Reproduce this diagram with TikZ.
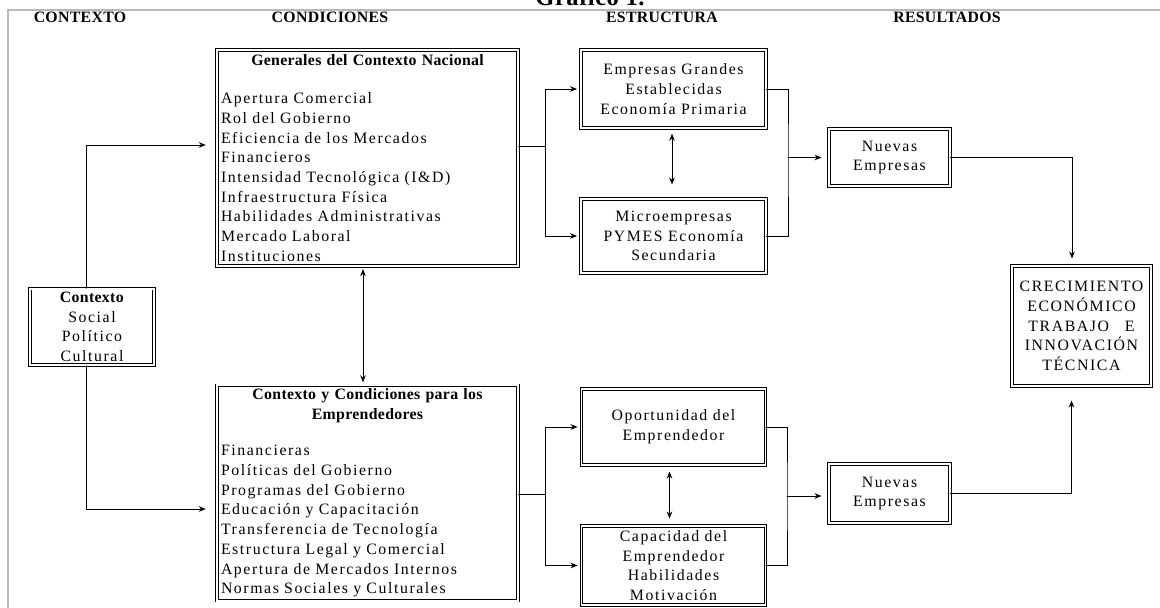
\documentclass[tikz,border=0pt]{standalone}
\usepackage{fontspec}
\setmainfont{Liberation Serif}[LetterSpace=10,BoldFeatures={LetterSpace=2}]
\usetikzlibrary{arrows.meta}

\begin{document}
\begin{tikzpicture}[>={Stealth[length=4pt,width=3.2pt]},line cap=round,line width=0.55pt,
  box/.style={draw,double,double distance=1.1pt,line width=0.5pt,align=center,inner sep=2pt,font=\fontsize{9}{11.2}\selectfont},
  listbox/.style={box,align=left,text width=5.86cm,inner xsep=2.4pt},
  head/.style={font=\bfseries\fontsize{9}{11}\selectfont}]
\useasboundingbox (0,0) rectangle (23.2,12.16);
\draw[gray!55,line width=0.9pt] (23.2,11.96) -- (0.16,11.96) -- (0.16,0);

\node[font=\bfseries\fontsize{14}{16}\selectfont,anchor=base] (titulo) at (11.8,12.05) {Gráfico 1.};
\node[head] (hctx) at (1.6,11.82) {CONTEXTO};
\node[head] (hcond) at (6.6,11.82) {CONDICIONES};
\node[head] (hestr) at (13.24,11.82) {ESTRUCTURA};
\node[head] (hres) at (18.94,11.82) {RESULTADOS};

\node[box,minimum width=2.48cm,minimum height=1.52cm] (ctx) at (1.84,5.62) {\textbf{Contexto}\\Social\\Político\\Cultural};

\node[listbox,minimum height=4.32cm] (nacional) at (7.35,9.0) {{\centering\bfseries Generales del Contexto Nacional\par}\vspace{10.5pt}Apertura Comercial\\Rol del Gobierno\\Eficiencia de los Mercados\\Financieros\\Intensidad Tecnológica (I\&D)\\Infraestructura Física\\Habilidades Administrativas\\Mercado Laboral\\Instituciones};
\node[listbox,minimum height=4.2cm] (emprend) at (7.35,2.3) {{\centering\bfseries Contexto y Condiciones para los\\Emprendedores\par}\vspace{9.5pt}Financieras\\Políticas del Gobierno\\Programas del Gobierno\\Educación y Capacitación\\Transferencia de Tecnología\\Estructura Legal y Comercial\\Apertura de Mercados Internos\\Normas Sociales y Culturales};

\node[box,minimum width=3.7cm,minimum height=1.56cm] (grandes) at (13.47,10.38) {Empresas Grandes\\Establecidas\\Economía Primaria};
\node[box,minimum width=3.7cm,minimum height=1.48cm] (pymes) at (13.47,7.44) {Microempresas\\PYMES Economía\\Secundaria};
\node[box,minimum width=3.68cm,minimum height=1.52cm] (oport) at (13.47,3.62) {Oportunidad del\\Emprendedor};
\node[box,minimum width=3.68cm,minimum height=1.58cm] (capac) at (13.47,0.85) {Capacidad del\\Emprendedor\\Habilidades\\Motivación};

\node[box,minimum width=2.42cm,minimum height=1.14cm] (nuevas1) at (17.79,9.01) {Nuevas\\Empresas};
\node[box,minimum width=2.42cm,minimum height=1.18cm] (nuevas2) at (17.79,2.29) {Nuevas\\Empresas};
\node[box,minimum width=2.78cm,minimum height=2.4cm] (crec) at (21.63,5.64) {CRECIMIENTO\\ECONÓMICO\\TRABAJO\quad E\\INNOVACIÓN\\TÉCNICA};

\coordinate (j1) at (10.9,9.24);
\coordinate (j2) at (15.76,9.01);
\coordinate (j3) at (10.9,2.28);
\coordinate (j4) at (15.74,2.24);

\draw[->,shorten >=6pt] ([xshift=-0.12cm]ctx.north) |- ([yshift=0.26cm]nacional.west);
\draw[->,shorten >=6pt] ([xshift=-0.12cm]ctx.south) |- ([yshift=-0.32cm]emprend.west);
\draw[<->,shorten <=1.5pt,shorten >=1.5pt] ([xshift=-0.09cm]nacional.south) -- ([xshift=-0.09cm]emprend.north);

\draw (nacional.east |- j1) -- (j1);
\draw[->,shorten >=2pt] (j1) |- (grandes.west);
\draw[->,shorten >=2pt] (j1) |- (pymes.west);
\draw[<->,shorten <=3pt,shorten >=8pt] ([xshift=-0.03cm]grandes.south) -- ([xshift=-0.03cm]pymes.north);
\draw (grandes.east) -| (j2) |- (pymes.east);
\draw[->,shorten >=4pt] (j2) -- (j2 -| nuevas1.west);
\draw[->,shorten >=4pt] (nuevas1.east) -| ([xshift=-0.19cm]crec.north);

\draw (emprend.east |- j3) -- (j3);
\draw[->,shorten >=2pt] (j3) |- (oport.west);
\draw[->,shorten >=2pt] (j3) |- (capac.west);
\draw[<->,shorten <=3.5pt,shorten >=4pt] ([xshift=-0.08cm]oport.south) -- ([xshift=-0.08cm]capac.north);
\draw (oport.east) -| (j4) |- (capac.east);
\draw[->,shorten >=4pt] (j4) -- (j4 -| nuevas2.west);
\draw[->,shorten >=8pt] (nuevas2.east) -| ([xshift=-0.2cm]crec.south);
\end{tikzpicture}
\end{document}
